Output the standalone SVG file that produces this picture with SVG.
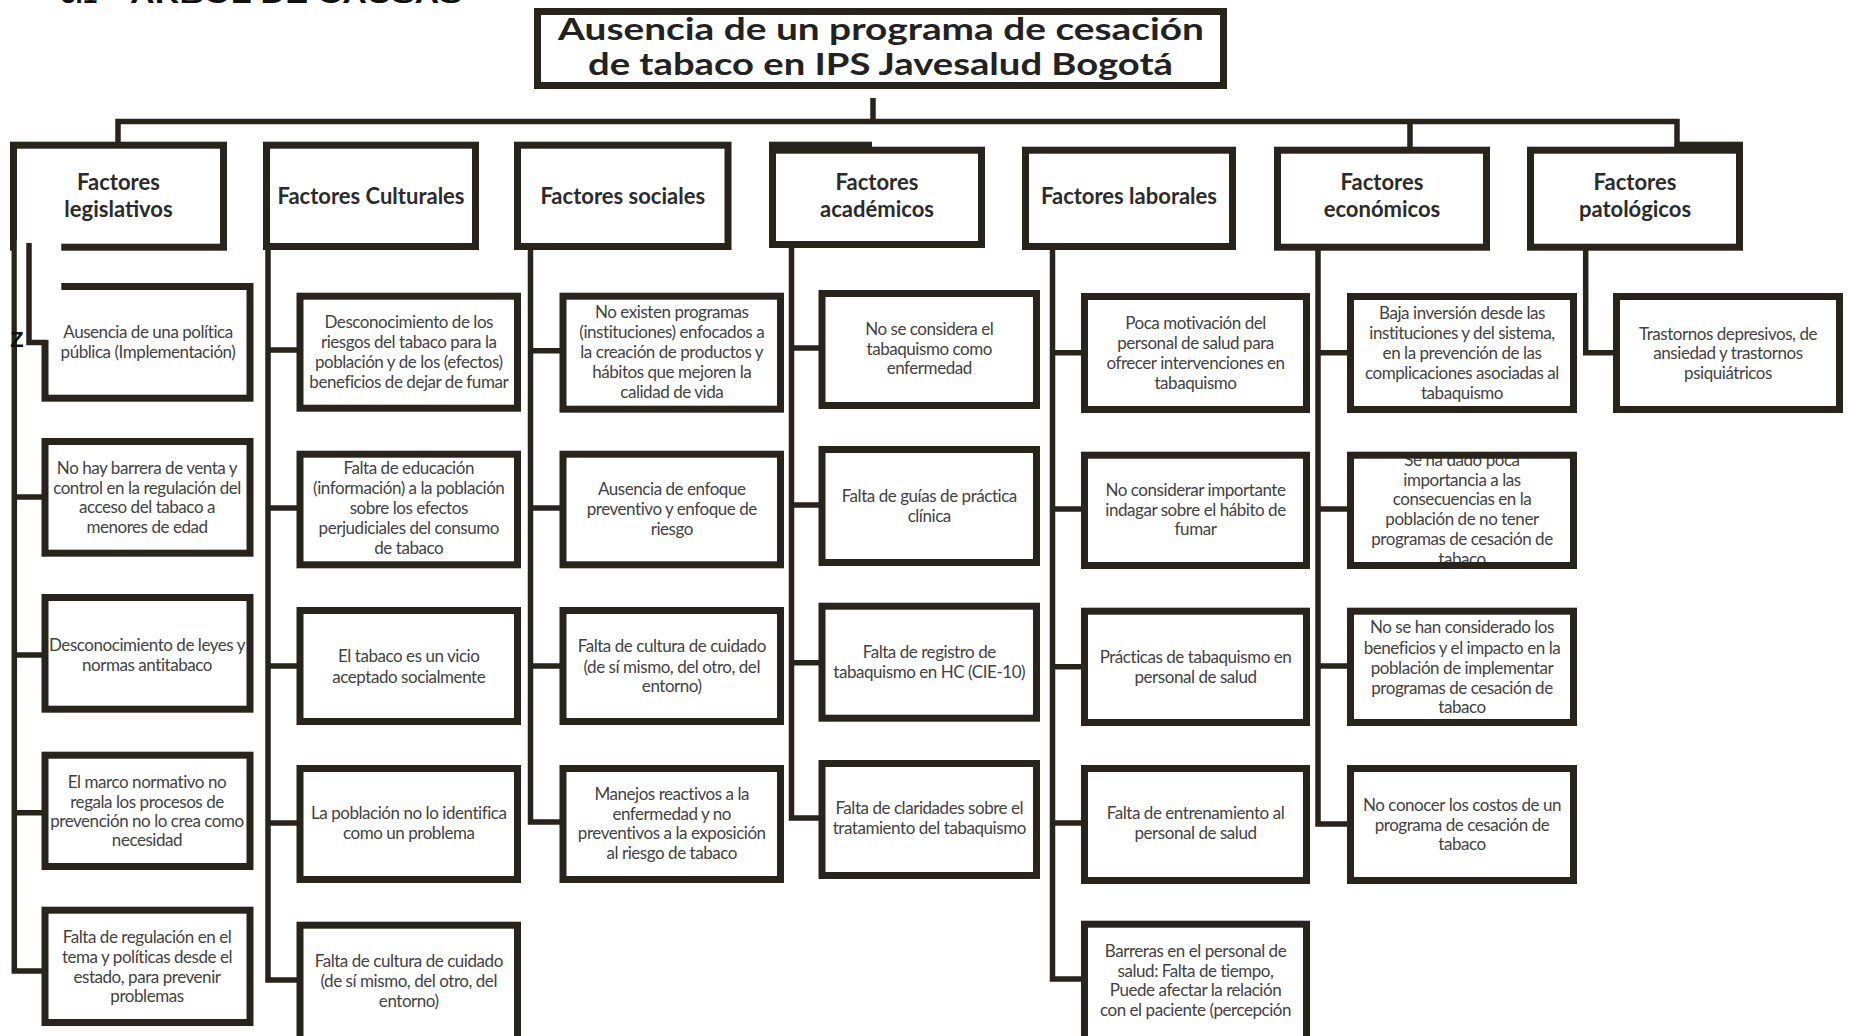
<svg xmlns="http://www.w3.org/2000/svg" width="1849" height="1036" viewBox="0 0 1849 1036">
<style>
.bf{fill:#fff;stroke:none}
.bs{fill:none;stroke:#28241c;stroke-width:7}
.title{font-family:Lato,"Liberation Sans",sans-serif;font-weight:700;font-size:30px;fill:#222;text-anchor:middle}
.hdr{font-family:Lato,"Liberation Sans",sans-serif;font-weight:700;font-size:22px;fill:#2b2b2b;text-anchor:middle}
.t{font-family:Lato,"Liberation Sans",sans-serif;font-size:17px;fill:#424242;text-anchor:middle;letter-spacing:-0.45px}
.conn{fill:none;stroke:#28241c;stroke-width:5.5;stroke-linejoin:miter}
.ink{fill:#28241c}
</style>
<rect width="1849" height="1036" fill="#fff"/>
<text x="61" y="3" font-family="'Liberation Sans',sans-serif" font-weight="700" font-size="26" fill="#111">3.1</text>
<text x="130" y="3" font-family="'Liberation Sans',sans-serif" font-weight="700" font-size="26" fill="#111" textLength="332" lengthAdjust="spacingAndGlyphs">ARBOL DE CAUSAS</text>

<g id="title">
<rect class="bf" x="537.5" y="11.5" width="686" height="74"/>
<text class="title" x="881" y="39.5" textLength="646" lengthAdjust="spacingAndGlyphs">Ausencia de un programa de cesación</text>
<text class="title" x="880.5" y="75" textLength="585" lengthAdjust="spacingAndGlyphs">de tabaco en IPS Javesalud Bogotá</text>
<rect class="bs" x="537.5" y="11.5" width="686" height="74"/>
</g>

<g id="connectors">
<path class="conn" d="M873,98 V121.5" stroke-width="5"/>
<path class="conn" d="M118,142 V121.5 H1677 V147" stroke-width="7"/>
<path class="conn" d="M1410,121.5 V147"/>
<path class="conn" d="M14.3,240 V971 H42 M14.3,497 H42 M14.3,655 H42 M14.3,812.7 H42" stroke-width="5"/>
<path class="conn" d="M268,250 V980 H297 M268,350 H297 M268,508 H297 M268,666 H297 M268,823 H297"/>
<path class="conn" d="M530.5,250 V822 H560 M530.5,350.7 H560 M530.5,508 H560 M530.5,666 H560"/>
<path class="conn" d="M791.5,248 V818 H819 M791.5,348 H819 M791.5,505 H819 M791.5,662.7 H819"/>
<path class="conn" d="M1052.5,248 V979 H1081 M1052.5,352.7 H1081 M1052.5,509 H1081 M1052.5,666.7 H1081 M1052.5,823 H1081"/>
<path class="conn" d="M1318,250 V824 H1347 M1318,352.7 H1347 M1318,509 H1347 M1318,666 H1347"/>
<path class="conn" d="M1585.7,250 V352.7 H1613"/>
</g>

<!-- Headers -->
<g id="h-legislativos">
<rect class="bf" x="13.5" y="145.2" width="210" height="102"/>
<text class="hdr" x="118.5" y="189.5">Factores</text>
<text class="hdr" x="118.5" y="217">legislativos</text>
<rect class="bs" x="13.5" y="145.2" width="210" height="102"/>
</g>
<g id="h-culturales">
<rect class="bf" x="266.5" y="145.2" width="209" height="101.3"/>
<text class="hdr" x="371" y="203.5">Factores Culturales</text>
<rect class="bs" x="266.5" y="145.2" width="209" height="101.3"/>
</g>
<g id="h-sociales">
<rect class="bf" x="517.5" y="145.2" width="210.5" height="101.3"/>
<text class="hdr" x="622.75" y="204">Factores sociales</text>
<rect class="bs" x="517.5" y="145.2" width="210.5" height="101.3"/>
</g>
<g id="h-academicos">
<rect class="ink" x="769" y="141.7" width="103" height="6"/>
<rect class="bf" x="772.5" y="150.2" width="209" height="94.3"/>
<text class="hdr" x="877" y="189.5">Factores</text>
<text class="hdr" x="877" y="217">académicos</text>
<rect class="bs" x="772.5" y="150.2" width="209" height="94.3"/>
</g>
<g id="h-laborales">
<rect class="bf" x="1025.5" y="150.2" width="207" height="96.3"/>
<text class="hdr" x="1129" y="204">Factores laborales</text>
<rect class="bs" x="1025.5" y="150.2" width="207" height="96.3"/>
</g>
<g id="h-economicos">
<rect class="bf" x="1277.5" y="150.2" width="209" height="97"/>
<text class="hdr" x="1382" y="189.5">Factores</text>
<text class="hdr" x="1382" y="217">económicos</text>
<rect class="bs" x="1277.5" y="150.2" width="209" height="97"/>
</g>
<g id="h-patologicos">
<rect class="ink" x="1677" y="141.7" width="66" height="6"/>
<rect class="bf" x="1530.5" y="150.2" width="209" height="97"/>
<text class="hdr" x="1635" y="189.5">Factores</text>
<text class="hdr" x="1635" y="217">patológicos</text>
<rect class="bs" x="1530.5" y="150.2" width="209" height="97"/>
</g>

<!-- Legislativos children -->
<g id="leg-1">
<rect class="bf" x="45" y="286.5" width="205" height="111.7"/>
<text class="t" x="148" y="337.5">Ausencia de una política</text>
<text class="t" x="148" y="357.5">pública (Implementación)</text>
<rect class="bs" x="45" y="286.5" width="205" height="111.7"/>
</g>
<g id="leg-2">
<rect class="bf" x="45" y="441.5" width="205" height="111.7"/>
<text class="t" x="147" y="474">No hay barrera de venta y</text>
<text class="t" x="147" y="494">control en la regulación del</text>
<text class="t" x="147" y="513">acceso del tabaco a</text>
<text class="t" x="147" y="533">menores de edad</text>
<rect class="bs" x="45" y="441.5" width="205" height="111.7"/>
</g>
<g id="leg-3">
<rect class="bf" x="45" y="597.5" width="205" height="111.7"/>
<text class="t" x="147" y="651">Desconocimiento de leyes y</text>
<text class="t" x="147" y="671">normas antitabaco</text>
<rect class="bs" x="45" y="597.5" width="205" height="111.7"/>
</g>
<g id="leg-4">
<rect class="bf" x="45" y="755.2" width="205" height="111.3"/>
<text class="t" x="147" y="787.7">El marco normativo no</text>
<text class="t" x="147" y="807.7">regala los procesos de</text>
<text class="t" x="147" y="826.7">prevención no lo crea como</text>
<text class="t" x="147" y="846">necesidad</text>
<rect class="bs" x="45" y="755.2" width="205" height="111.3"/>
</g>
<g id="leg-5">
<rect class="bf" x="45" y="910.2" width="205" height="112.3"/>
<text class="t" x="147" y="943">Falta de regulación en el</text>
<text class="t" x="147" y="962.7">tema y políticas desde el</text>
<text class="t" x="147" y="982.7">estado, para prevenir</text>
<text class="t" x="147" y="1002">problemas</text>
<rect class="bs" x="45" y="910.2" width="205" height="112.3"/>
</g>

<!-- quirk near legislativos -->
<g id="leg-quirk">
<rect x="16.8" y="240" width="44.5" height="100" fill="#fff"/>
<path class="conn" d="M29,243 V342.5 H47" stroke-width="4.5"/>
<text x="17" y="347" font-family="'Liberation Sans',sans-serif" font-weight="700" font-size="22" fill="#111" text-anchor="middle">Z</text>
</g>

<!-- Culturales children -->
<g id="cul-1">
<rect class="bf" x="300" y="296.2" width="217.5" height="112"/>
<text class="t" x="408.75" y="327.7">Desconocimiento de los</text>
<text class="t" x="408.75" y="348.3">riesgos del tabaco para la</text>
<text class="t" x="408.75" y="368.3">población y de los (efectos)</text>
<text class="t" x="408.75" y="388.3">beneficios de dejar de fumar</text>
<rect class="bs" x="300" y="296.2" width="217.5" height="112"/>
</g>
<g id="cul-2">
<rect class="bf" x="300" y="454.2" width="217.5" height="110.6"/>
<text class="t" x="408.75" y="474">Falta de educación</text>
<text class="t" x="408.75" y="494">(información) a la población</text>
<text class="t" x="408.75" y="514">sobre los efectos</text>
<text class="t" x="408.75" y="534">perjudiciales del consumo</text>
<text class="t" x="408.75" y="554">de tabaco</text>
<rect class="bs" x="300" y="454.2" width="217.5" height="110.6"/>
</g>
<g id="cul-3">
<rect class="bf" x="300" y="610.5" width="217.5" height="111"/>
<text class="t" x="408.75" y="662">El tabaco es un vicio</text>
<text class="t" x="408.75" y="682.7">aceptado socialmente</text>
<rect class="bs" x="300" y="610.5" width="217.5" height="111"/>
</g>
<g id="cul-4">
<rect class="bf" x="300" y="768.5" width="217.5" height="111"/>
<text class="t" x="408.75" y="819">La población no lo identifica</text>
<text class="t" x="408.75" y="839">como un problema</text>
<rect class="bs" x="300" y="768.5" width="217.5" height="111"/>
</g>
<g id="cul-5">
<rect class="bf" x="300" y="925.2" width="217.5" height="116"/>
<text class="t" x="408.75" y="966.7">Falta de cultura de cuidado</text>
<text class="t" x="408.75" y="986.7">(de sí mismo, del otro, del</text>
<text class="t" x="408.75" y="1006.7">entorno)</text>
<rect class="bs" x="300" y="925.2" width="217.5" height="116"/>
</g>

<!-- Sociales children -->
<g id="soc-1">
<rect class="bf" x="563" y="296.2" width="217.5" height="113"/>
<text class="t" x="671.75" y="317.7">No existen programas</text>
<text class="t" x="671.75" y="338.3">(instituciones) enfocados a</text>
<text class="t" x="671.75" y="357.7">la creación de productos y</text>
<text class="t" x="671.75" y="377.7">hábitos que mejoren la</text>
<text class="t" x="671.75" y="398.3">calidad de vida</text>
<rect class="bs" x="563" y="296.2" width="217.5" height="113"/>
</g>
<g id="soc-2">
<rect class="bf" x="563" y="454.2" width="217.5" height="110.6"/>
<text class="t" x="671.75" y="495">Ausencia de enfoque</text>
<text class="t" x="671.75" y="515">preventivo y enfoque de</text>
<text class="t" x="671.75" y="535">riesgo</text>
<rect class="bs" x="563" y="454.2" width="217.5" height="110.6"/>
</g>
<g id="soc-3">
<rect class="bf" x="563" y="610.5" width="217.5" height="111"/>
<text class="t" x="671.75" y="652">Falta de cultura de cuidado</text>
<text class="t" x="671.75" y="672.7">(de sí mismo, del otro, del</text>
<text class="t" x="671.75" y="691.7">entorno)</text>
<rect class="bs" x="563" y="610.5" width="217.5" height="111"/>
</g>
<g id="soc-4">
<rect class="bf" x="563" y="768.5" width="217.5" height="111"/>
<text class="t" x="671.75" y="800">Manejos reactivos a la</text>
<text class="t" x="671.75" y="820">enfermedad y no</text>
<text class="t" x="671.75" y="839">preventivos a la exposición</text>
<text class="t" x="671.75" y="859">al riesgo de tabaco</text>
<rect class="bs" x="563" y="768.5" width="217.5" height="111"/>
</g>

<!-- Académicos children -->
<g id="aca-1">
<rect class="bf" x="822" y="293.5" width="214.5" height="112"/>
<text class="t" x="929.25" y="335">No se considera el</text>
<text class="t" x="929.25" y="355">tabaquismo como</text>
<text class="t" x="929.25" y="374">enfermedad</text>
<rect class="bs" x="822" y="293.5" width="214.5" height="112"/>
</g>
<g id="aca-2">
<rect class="bf" x="822" y="449.5" width="214.5" height="113"/>
<text class="t" x="929.25" y="502">Falta de guías de práctica</text>
<text class="t" x="929.25" y="522">clínica</text>
<rect class="bs" x="822" y="449.5" width="214.5" height="113"/>
</g>
<g id="aca-3">
<rect class="bf" x="822" y="606.2" width="214.5" height="112"/>
<text class="t" x="929.25" y="658">Falta de registro de</text>
<text class="t" x="929.25" y="678">tabaquismo en HC (CIE-10)</text>
<rect class="bs" x="822" y="606.2" width="214.5" height="112"/>
</g>
<g id="aca-4">
<rect class="bf" x="822" y="763.5" width="214.5" height="112"/>
<text class="t" x="929.25" y="814">Falta de claridades sobre el</text>
<text class="t" x="929.25" y="834">tratamiento del tabaquismo</text>
<rect class="bs" x="822" y="763.5" width="214.5" height="112"/>
</g>

<!-- Laborales children -->
<g id="lab-1">
<rect class="bf" x="1084.5" y="296.5" width="222" height="113"/>
<text class="t" x="1195.5" y="329">Poca motivación del</text>
<text class="t" x="1195.5" y="349">personal de salud para</text>
<text class="t" x="1195.5" y="369">ofrecer intervenciones en</text>
<text class="t" x="1195.5" y="389">tabaquismo</text>
<rect class="bs" x="1084.5" y="296.5" width="222" height="113"/>
</g>
<g id="lab-2">
<rect class="bf" x="1084.5" y="455.2" width="222" height="110.3"/>
<text class="t" x="1195.5" y="496">No considerar importante</text>
<text class="t" x="1195.5" y="516">indagar sobre el hábito de</text>
<text class="t" x="1195.5" y="535">fumar</text>
<rect class="bs" x="1084.5" y="455.2" width="222" height="110.3"/>
</g>
<g id="lab-3">
<rect class="bf" x="1084.5" y="611.2" width="222" height="111.3"/>
<text class="t" x="1195.5" y="662.7">Prácticas de tabaquismo en</text>
<text class="t" x="1195.5" y="683">personal de salud</text>
<rect class="bs" x="1084.5" y="611.2" width="222" height="111.3"/>
</g>
<g id="lab-4">
<rect class="bf" x="1084.5" y="768.5" width="222" height="112"/>
<text class="t" x="1195.5" y="819">Falta de entrenamiento al</text>
<text class="t" x="1195.5" y="839">personal de salud</text>
<rect class="bs" x="1084.5" y="768.5" width="222" height="112"/>
</g>
<g id="lab-5">
<rect class="bf" x="1084.5" y="924.2" width="222" height="120"/>
<text class="t" x="1195.5" y="956.7">Barreras en el personal de</text>
<text class="t" x="1195.5" y="976.7">salud: Falta de tiempo,</text>
<text class="t" x="1195.5" y="996">Puede afectar la relación</text>
<text class="t" x="1195.5" y="1016">con el paciente (percepción</text>
<rect class="bs" x="1084.5" y="924.2" width="222" height="120"/>
</g>

<!-- Económicos children -->
<g id="eco-1">
<rect class="bf" x="1350.5" y="296.5" width="223" height="113"/>
<text class="t" x="1462" y="319">Baja inversión desde las</text>
<text class="t" x="1462" y="339">instituciones y del sistema,</text>
<text class="t" x="1462" y="359">en la prevención de las</text>
<text class="t" x="1462" y="379">complicaciones asociadas al</text>
<text class="t" x="1462" y="399">tabaquismo</text>
<rect class="bs" x="1350.5" y="296.5" width="223" height="113"/>
</g>
<g id="eco-2">
<rect class="bf" x="1350.5" y="455.2" width="223" height="110.3"/>
<text class="t" x="1462" y="466">Se ha dado poca</text>
<text class="t" x="1462" y="486">importancia a las</text>
<text class="t" x="1462" y="505">consecuencias en la</text>
<text class="t" x="1462" y="525">población de no tener</text>
<text class="t" x="1462" y="545">programas de cesación de</text>
<text class="t" x="1462" y="565">tabaco</text>
<rect class="bs" x="1350.5" y="455.2" width="223" height="110.3"/>
</g>
<g id="eco-3">
<rect class="bf" x="1350.5" y="611.2" width="223" height="111.3"/>
<text class="t" x="1462" y="633">No se han considerado los</text>
<text class="t" x="1462" y="654">beneficios y el impacto en la</text>
<text class="t" x="1462" y="674">población de implementar</text>
<text class="t" x="1462" y="694">programas de cesación de</text>
<text class="t" x="1462" y="713">tabaco</text>
<rect class="bs" x="1350.5" y="611.2" width="223" height="111.3"/>
</g>
<g id="eco-4">
<rect class="bf" x="1350.5" y="768.5" width="223" height="112"/>
<text class="t" x="1462" y="811">No conocer los costos de un</text>
<text class="t" x="1462" y="831">programa de cesación de</text>
<text class="t" x="1462" y="850">tabaco</text>
<rect class="bs" x="1350.5" y="768.5" width="223" height="112"/>
</g>

<!-- Patológicos child -->
<g id="pat-1">
<rect class="bf" x="1616.5" y="296.5" width="223" height="113"/>
<text class="t" x="1728" y="340">Trastornos depresivos, de</text>
<text class="t" x="1728" y="359">ansiedad y trastornos</text>
<text class="t" x="1728" y="379">psiquiátricos</text>
<rect class="bs" x="1616.5" y="296.5" width="223" height="113"/>
</g>
</svg>
